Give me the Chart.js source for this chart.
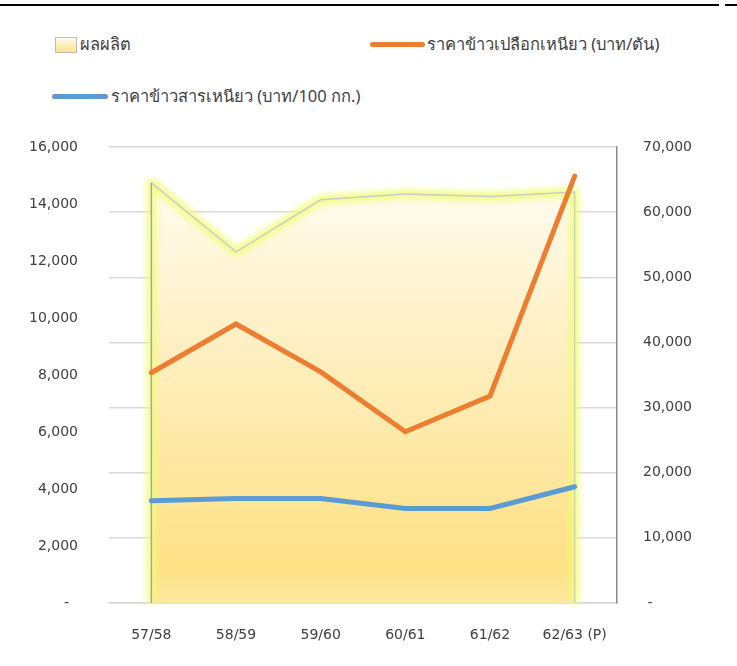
<!DOCTYPE html>
<html>
<head>
<meta charset="utf-8">
<script src="https://cdn.jsdelivr.net/npm/chart.js@4.4.1/dist/chart.umd.min.js"></script>
<style>
  html, body { margin: 0; padding: 0; background: #fff; }
  body { width: 737px; height: 666px; position: relative; overflow: hidden;
         font-family: "Noto Sans", "DejaVu Sans", sans-serif; color: #404040; }
  #chartWrap { position: absolute; left: 0; top: 0; width: 737px; height: 666px; }
  .topRule { position: absolute; top: 4px; height: 2px; background: #000; }
  .legItem { position: absolute; font-size: 16.5px; line-height: 20px; white-space: nowrap; color: #404040; }
  .swArea { position: absolute; width: 20px; height: 14px; border: 1.5px solid #bdbdbd;
            background: linear-gradient(#fffbea, #fde38c); }
  .swLine { position: absolute; height: 5px; border-radius: 3px; }
</style>
</head>
<body>
<div class="topRule" style="left:0; width:719px;"></div>
<div class="topRule" style="left:725px; width:12px;"></div>

<div class="swArea" style="left:55px; top:37px;"></div>
<div class="legItem" style="left:80px; top:34px;">ผลผลิต</div>

<div class="swLine" style="left:370px; top:42px; width:55px; background:#ed7d31;"></div>
<div class="legItem" style="left:427px; top:34px;">ราคาข้าวเปลือกเหนียว (บาท/ตัน)</div>

<div class="swLine" style="left:52px; top:94px; width:56px; background:#5b9bd5;"></div>
<div class="legItem" style="left:111px; top:86px;">ราคาข้าวสารเหนียว (บาท/100 กก.)</div>

<div id="chartWrap"><canvas id="c" width="737" height="666"></canvas></div>

<script>
// ------------------------------------------------------------
// Data
// ------------------------------------------------------------
const seasons      = ['57/58', '58/59', '59/60', '60/61', '61/62', '62/63 (P)'];
const production   = [64500, 53900, 61900, 62800, 62400, 63100];   // right axis
const paddyPrice   = [8080, 9790, 8110, 6010, 7260, 14980];        // บาท/ตัน, left axis
const milledPrice  = [3590, 3670, 3670, 3320, 3320, 4080];         // บาท/100 กก., left axis

const LEFT_MAX  = 16000, LEFT_STEP  = 2000;
const RIGHT_MAX = 70000, RIGHT_STEP = 10000;

const fmt = v => v === 0 ? '-' : v.toLocaleString('en-US');

// ------------------------------------------------------------
// Yellow halo + grey edges around the production area
// ------------------------------------------------------------
const areaGlow = {
  id: 'areaGlow',
  beforeDatasetDraw(chart, args) {
    if (args.index !== 0) return;
    const pts = args.meta.data;
    const base = chart.scales.y2.getPixelForValue(0);
    const c = chart.ctx;
    c.save();
    c.beginPath();
    c.moveTo(pts[0].x, base);
    pts.forEach(p => c.lineTo(p.x, p.y));
    c.lineTo(pts[pts.length - 1].x, base);
    c.filter = 'blur(3px)';
    c.strokeStyle = 'rgba(238,255,110,0.85)';
    c.lineWidth = 9;
    c.lineJoin = 'round';
    c.stroke();
    c.restore();
  },
  afterDatasetDraw(chart, args) {
    if (args.index !== 0) return;
    const pts = args.meta.data;
    const base = chart.scales.y2.getPixelForValue(0);
    const c = chart.ctx;
    const first = pts[0], last = pts[pts.length - 1];
    c.save();
    c.lineWidth = 1.5;
    c.strokeStyle = '#a6a6a6';
    c.beginPath(); c.moveTo(first.x, first.y); c.lineTo(first.x, base); c.stroke();
    c.strokeStyle = '#cfcfcf';
    c.beginPath(); c.moveTo(last.x, last.y); c.lineTo(last.x, base); c.stroke();
    c.restore();
  }
};

function areaFill(context) {
  const { ctx, chartArea } = context.chart;
  if (!chartArea) return '#fde9a8';
  const g = ctx.createLinearGradient(0, chartArea.top, 0, chartArea.bottom);
  g.addColorStop(0.0, '#fffdf6');
  g.addColorStop(0.12, '#fffaea');
  g.addColorStop(0.55, '#feecb4');
  g.addColorStop(0.92, '#fde186');
  g.addColorStop(1.0, '#fde7a2');
  return g;
}

new Chart(document.getElementById('c'), {
  type: 'line',
  data: {
    labels: seasons,
    datasets: [
      {
        label: 'ผลผลิต',
        data: production,
        yAxisID: 'y2',
        fill: 'origin',
        backgroundColor: areaFill,
        borderColor: '#cccccc',
        borderWidth: 1.5,
        pointRadius: 0,
        tension: 0,
        order: 10
      },
      {
        label: 'ราคาข้าวเปลือกเหนียว (บาท/ตัน)',
        data: paddyPrice,
        yAxisID: 'y',
        borderColor: '#ed7d31',
        borderWidth: 5,
        borderCapStyle: 'round',
        pointRadius: 0,
        fill: false,
        tension: 0,
        order: 2
      },
      {
        label: 'ราคาข้าวสารเหนียว (บาท/100 กก.)',
        data: milledPrice,
        yAxisID: 'y',
        borderColor: '#5b9bd5',
        borderWidth: 5,
        borderCapStyle: 'round',
        pointRadius: 0,
        fill: false,
        tension: 0,
        order: 1
      }
    ]
  },
  options: {
    responsive: false,
    animation: false,
    layout: { padding: { top: 147, left: 0, right: 0, bottom: 0 } },
    plugins: { legend: { display: false }, tooltip: { enabled: false } },
    scales: {
      x: {
        offset: true,
        grid: { display: false, drawTicks: false },
        border: { display: true, color: '#d9d9d9', width: 1.5 },
        ticks: { color: '#404040', font: { family: 'DejaVu Sans', size: 14 }, padding: 24, maxRotation: 0 },
        afterFit: s => { s.height = 63; }
      },
      y: {
        position: 'left',
        min: 0, max: LEFT_MAX,
        grid: { display: false, drawTicks: false },
        border: { display: false },
        ticks: {
          stepSize: LEFT_STEP, color: '#404040', padding: 31,
          font: { family: 'DejaVu Sans', size: 14 },
          callback: v => v === 0 ? '-  ' : fmt(v)
        },
        afterFit: s => { s.width = 109; }
      },
      y2: {
        position: 'right',
        min: 0, max: RIGHT_MAX,
        grid: { color: '#d9d9d9', lineWidth: 1.5, drawTicks: false },
        border: { display: true, color: '#8c8c8c', width: 1.5 },
        ticks: {
          stepSize: RIGHT_STEP, color: '#404040', padding: 26,
          font: { family: 'DejaVu Sans', size: 14 },
          callback: v => v === 0 ? ' -' : fmt(v)
        },
        afterFit: s => { s.width = 120; }
      }
    }
  },
  plugins: [areaGlow]
});
</script>
</body>
</html>
